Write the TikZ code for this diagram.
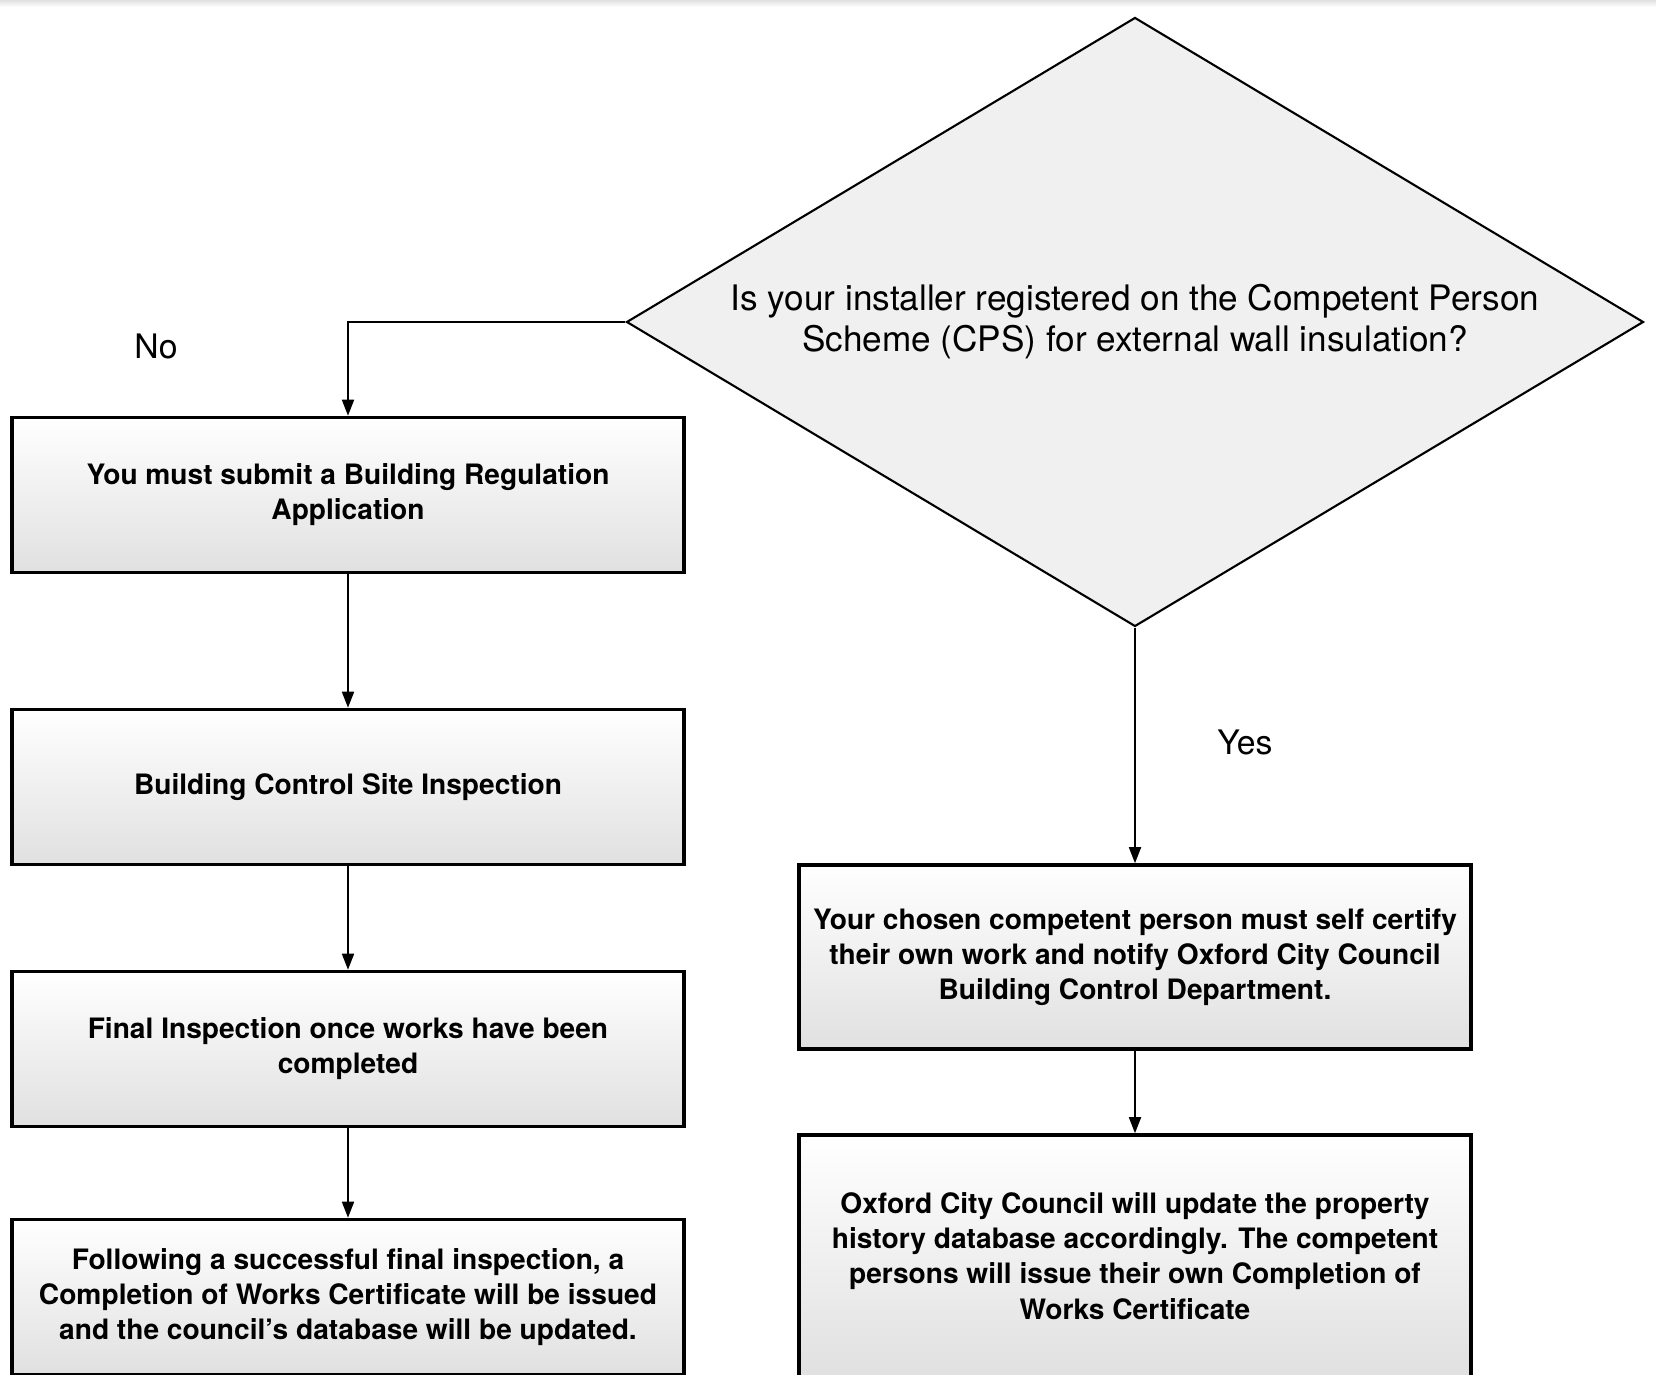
\documentclass[tikz,border=0pt]{standalone}
\usepackage{fontspec}
\setmainfont{TeX Gyre Heros}
\usepackage{tikz}
\usetikzlibrary{arrows.meta,shapes.geometric}

\begin{document}
\begin{tikzpicture}
	\tikzstyle{box}=[rectangle,draw=black,line width=1pt,top color=white,bottom color=black!12,minimum width=6.72cm,minimum height=1.55cm,inner sep=0pt,align=center,font=\bfseries\fontsize{8}{10}\selectfont]
	\tikzstyle{decision}=[diamond,draw=black,line width=0.6pt,fill=black!6,aspect=1.67,minimum width=10.17cm,minimum height=6.09cm,inner sep=0pt,align=center,font=\fontsize{10}{11.7}\selectfont]
	\tikzstyle{answer}=[font=\fontsize{9.6}{11}\selectfont]
	\tikzstyle{arrow}=[line width=0.5pt,-{Triangle[length=1.6mm,width=1.2mm]}]
	\clip (0,0) rectangle (16.56,-13.75);
	\shade[top color=black!12,bottom color=white] (0,0) rectangle (16.56,-0.07);
	\node[decision] (1) at (11.35,-3.22) {Is your installer registered on the Competent Person\\Scheme (CPS) for external wall insulation?};
	\node[box] (2) at (3.48,-4.95) {You must submit a Building Regulation\\Application};
	\node[box] (3) at (3.48,-7.87) {Building Control Site Inspection};
	\node[box] (4) at (3.48,-10.49) {Final Inspection once works have been\\completed};
	\node[box] (5) at (3.48,-12.97) {Following a successful final inspection, a\\Completion of Works Certificate will be issued\\and the council's database will be updated.};
	\node[box,minimum height=1.84cm] (6) at (11.35,-9.57) {Your chosen competent person must self certify\\their own work and notify Oxford City Council\\Building Control Department.};
	\node[box,minimum height=2.42cm] (7) at (11.35,-12.56) {Oxford City Council will update the property\\history database accordingly. The competent\\persons will issue their own Completion of\\Works Certificate};
	\node[answer] (8) at (1.56,-3.46) {No};
	\node[answer] (9) at (12.45,-7.42) {Yes};
	\draw[arrow] (1) -| (2);
	\draw[arrow] (2) -- (3);
	\draw[arrow] (3) -- (4);
	\draw[arrow] (4) -- (5);
	\draw[arrow] (1) -- (6);
	\draw[arrow] (6) -- (7);
\end{tikzpicture}
\end{document}
